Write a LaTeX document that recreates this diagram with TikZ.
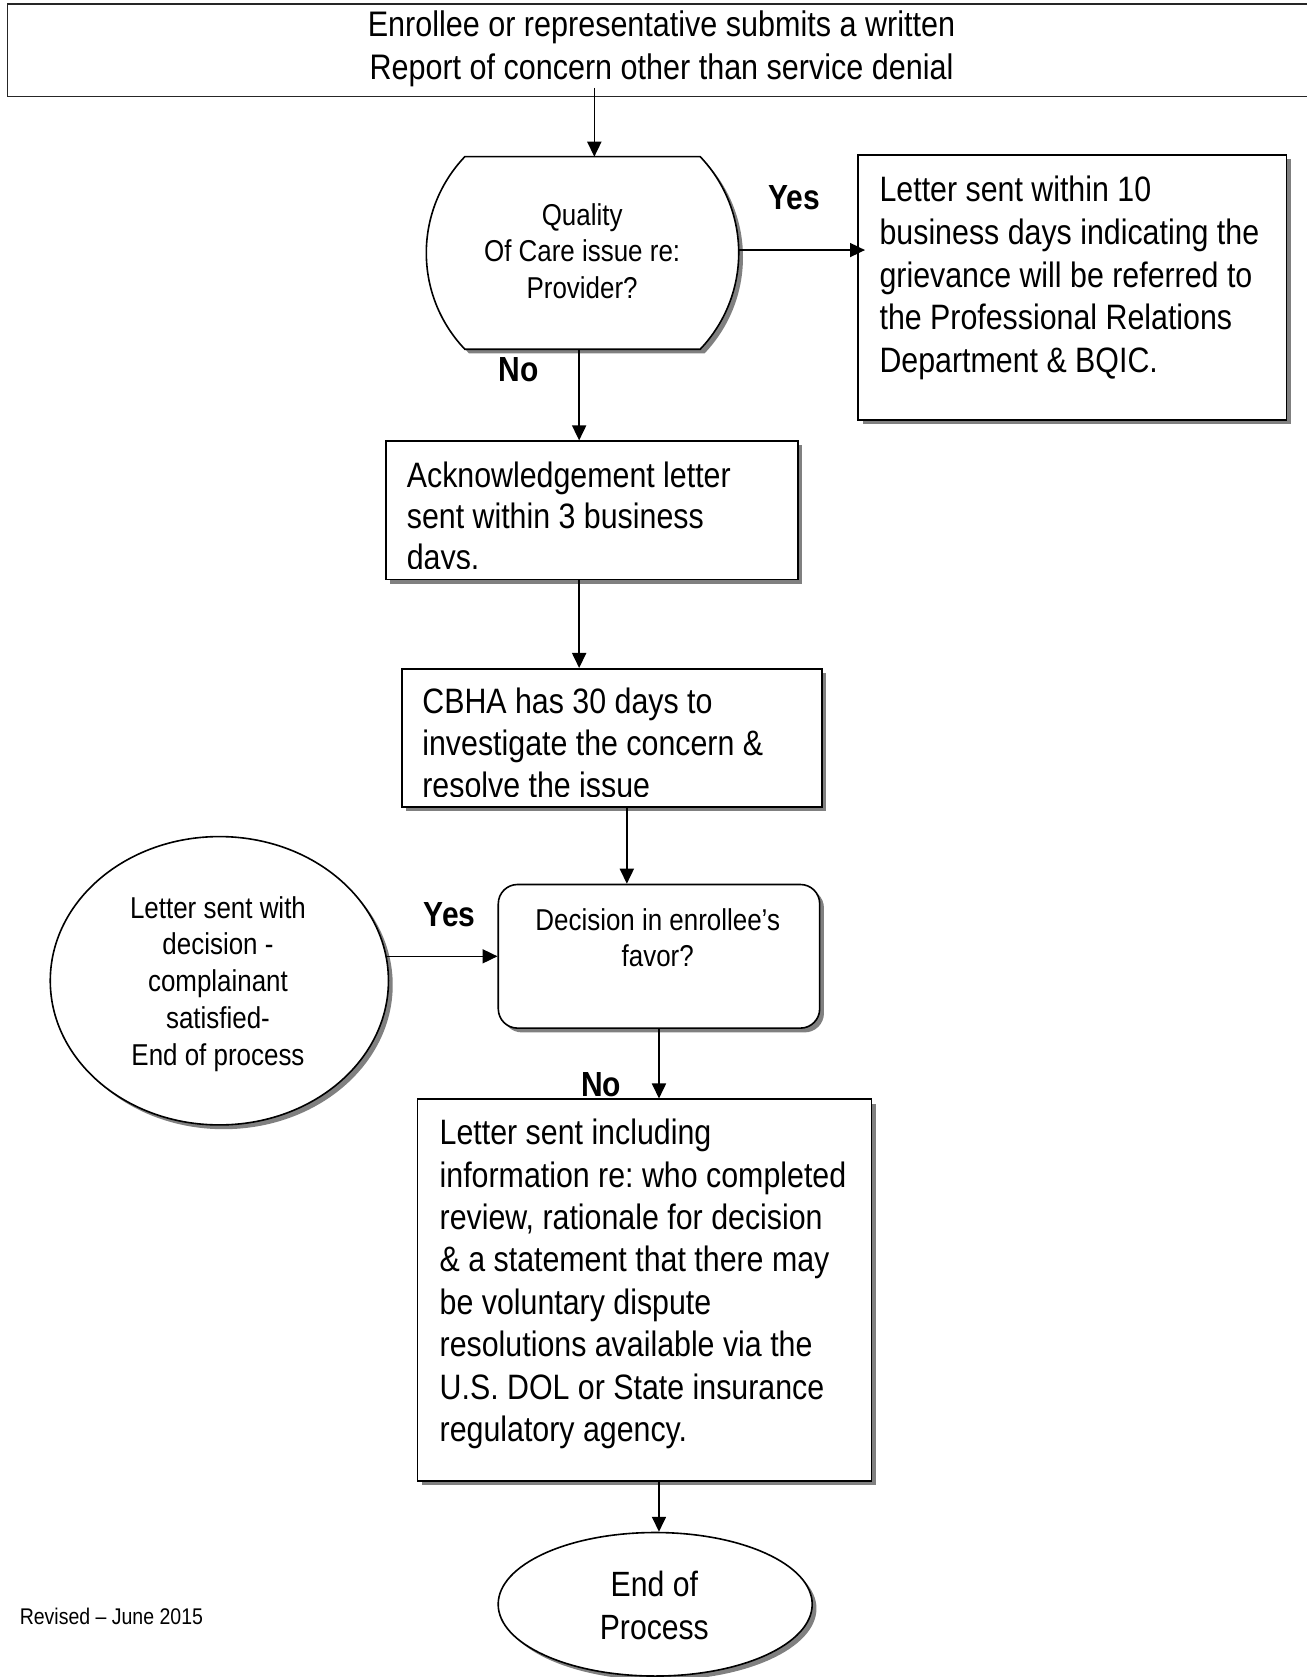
\documentclass[tikz,border=0pt]{standalone}
\usepackage{fontspec}
\setmainfont{Liberation Sans}[FakeStretch=0.86]
\usetikzlibrary{arrows.meta,shapes.geometric,shadows,calc}
\frenchspacing
\begin{document}
\begin{tikzpicture}[x=0.5pt,y=-0.5pt,
  box/.style={draw=black, line width=0.75pt, fill=white, inner sep=0pt,
    drop shadow={shadow xshift=2pt,shadow yshift=-2pt,fill=black!50,opacity=1}},
  plainbox/.style={draw=black!85, line width=0.8pt, fill=white, inner sep=0pt},
  arr/.style={-{Triangle[length=7pt,width=6.6pt]}, line width=0.65pt},
  txt/.style={inner sep=0pt, anchor=base west, align=left},
  ctxt/.style={inner sep=0pt, anchor=base, align=center},
  lbl/.style={inner sep=0pt, anchor=base west, font=\fontsize{16.3}{19}\selectfont\bfseries},
  bigtxt/.style={font=\fontsize{16.5}{#1}\selectfont},
  smalltxt/.style={font=\fontsize{14.1}{#1}\selectfont},
]
\useasboundingbox (0,0) rectangle (1222,1568);
\clip (0,0) rectangle (1222,1568);

% top box
\node[plainbox, minimum width=616.5pt, minimum height=43.35pt] (top) at (623.5,47) {};
\node[ctxt, font=\fontsize{16.6}{20.25}\selectfont] (ttop) at (618.5,74.8)
  {Enrollee or representative submits a written\\Report of concern other than service denial};

% quality of care decision
\node[minimum width=145.6pt, minimum height=90pt, inner sep=0pt] (q) at (544.65,236.5) {};
\begin{scope}[xshift=2pt,yshift=-2pt]
  \fill[black!50] (434.6,146.5) -- (654.7,146.5) .. controls (702.7,197) and (702.7,276) .. (654.7,326.5)
    -- (434.6,326.5) .. controls (386.6,276) and (386.6,197) .. cycle;
\end{scope}
\filldraw[fill=white, draw=black, line width=0.75pt] (434.6,146.5) -- (654.7,146.5)
  .. controls (702.7,197) and (702.7,276) .. (654.7,326.5)
  -- (434.6,326.5) .. controls (386.6,276) and (386.6,197) .. cycle;
\node[ctxt, smalltxt=17.1] (tq) at (544.3,278.8) {Quality\\Of Care issue re:\\Provider?};

% right box
\node[box, minimum width=200.25pt, minimum height=123.85pt] (rbox) at (1002.75,268.85) {};
\node[txt, bigtxt=20] (trbox) at (822,348.5)
  {Letter sent within 10\\business days indicating the\\grievance will be referred to\\the Professional Relations\\Department \& BQIC.};

\coordinate (qin) at (555.7,146.5);
\coordinate (ya) at (0,233.8);
\draw[arr] ($(top.south -| qin)+(0,-9)$) -- (qin);
\draw[arr, shorten >=-3.5pt] (q.east |- ya) -- (rbox.west |- ya);
\node[lbl] (yes1) at (718,196.3) {Yes};
\node[lbl] (no1) at (466,356.8) {No};

% acknowledgement box
\node[box, minimum width=192.65pt, minimum height=64.7pt] (ack) at (553.35,477.2) {};
\begin{scope}
  \clip (ack.north west) rectangle ([yshift=5.45pt]ack.south east);
  \node[txt, bigtxt=19.25] (tack) at (380,532.5) {Acknowledgement letter\\sent within 3 business\\days.};
\end{scope}
\coordinate (xq) at (541.5,0);
\draw[arr] (q.south -| xq) -- (ack.north -| xq);

% CBHA box
\node[box, minimum width=196.4pt, minimum height=64.7pt] (cbha) at (572.1,690) {};
\begin{scope}
  \clip (cbha.north west) rectangle ([yshift=5.35pt]cbha.south east);
  \node[txt, bigtxt=19.5] (tcbha) at (394.5,745.5) {CBHA has 30 days to\\investigate the concern \&\\resolve the issue};
\end{scope}
\draw[arr] (ack.south -| xq) -- (cbha.north -| xq);

% decision box
\node[box, rounded corners=9pt, minimum width=150.25pt, minimum height=67.15pt] (dec) at (616.15,894.15) {};
\node[ctxt, smalltxt=16.85] (tdec) at (615,903.8) {Decision in enrollee’s\\favor?};
\coordinate (xc) at (586.1,0);
\draw[arr] (cbha.south -| xc) -- (dec.north -| xc);

% circle
\node[box, ellipse, minimum width=158.1pt, minimum height=134.8pt] (circ) at (205.1,917) {};
\node[ctxt, smalltxt=17.15] (tcirc) at (203.8,995.8)
  {Letter sent with\\decision -\\complainant\\satisfied-\\End of process};
\node[lbl] (yes2) at (396,866.4) {Yes};
\draw[arr] ($(circ.east |- dec.west)+(-2,0)$) -- (dec.west);

% letter box
\node[lbl] (no2) at (543,1025.3) {No};
\node[box, minimum width=212.25pt, minimum height=178.4pt] (letter) at (602.55,1206.2) {};
\node[txt, bigtxt=19.8] (tletter) at (410.7,1347.7)
  {Letter sent including\\information re: who completed\\review, rationale for decision\\\& a statement that there may\\be voluntary dispute\\resolutions available via the\\U.S. DOL or State insurance\\regulatory agency.};
\draw[arr] (dec.south) -- (dec.south |- letter.north);

% end
\node[box, ellipse, minimum width=146.8pt, minimum height=67.1pt] (endp) at (612.6,1500) {};
\node[ctxt, font=\fontsize{16.4}{19.75}\selectfont] (tend) at (611.8,1532.5) {End of\\Process};
\draw[arr] (letter.south -| dec.south) -- (endp.north -| dec.south);

\node[txt, font=\fontsize{10.6}{12}\selectfont] (rev) at (18.1,1519.3) {Revised – June 2015};
\end{tikzpicture}
\end{document}
